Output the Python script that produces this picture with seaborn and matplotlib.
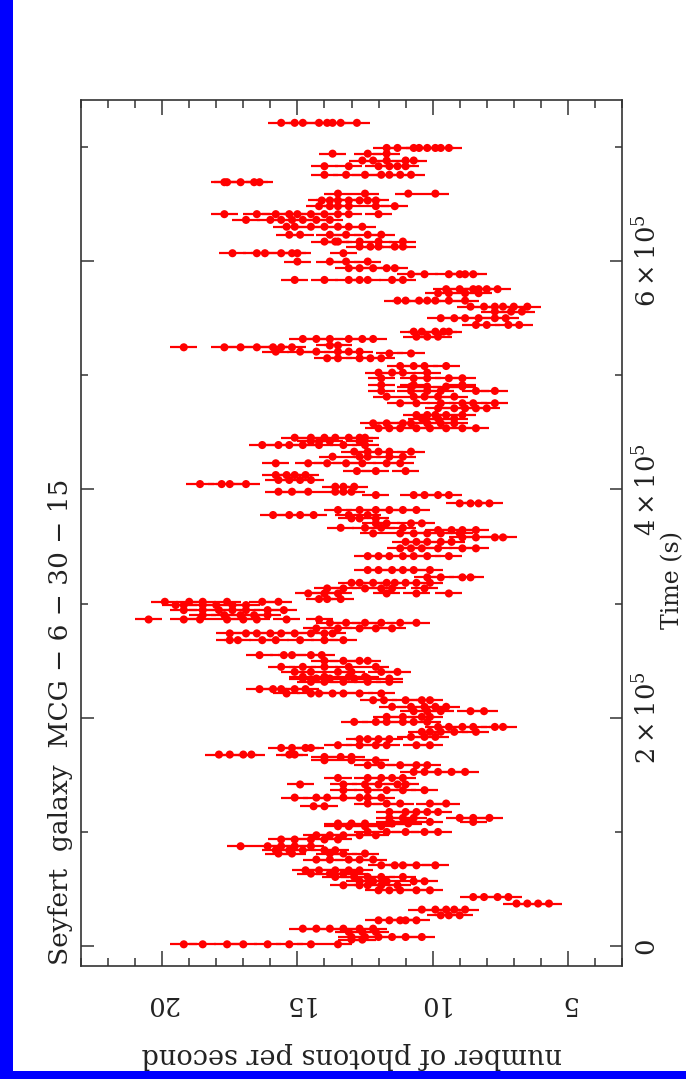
import numpy as np
import pandas as pd
import matplotlib
matplotlib.use("Agg")
import matplotlib.pyplot as plt
import seaborn as sns
from matplotlib.patches import Rectangle
from matplotlib.ticker import FixedLocator, MultipleLocator

# ---------------- data ----------------
# each entry: time of a group of bins (ks) and the count rates in that group
strip_time_ks = [
    721, 699, 694, 688, 683, 675.5, 669, 659, 653, 648, 641, 636, 630, 623, 617,
    612.6, 606.8, 599.5, 593.7, 588.4, 583.4, 575.3, 571.8, 565.3, 560, 555.7,
    549.9, 544, 538.1, 533.7, 531.7, 526, 524.4, 520.6, 519, 514.8, 508, 502.2,
    497.3, 491.4, 490, 486.2, 481.2, 475.4, 471, 465.1, 462, 457.8, 453.5, 445.2,
    442, 438.8, 433, 428.6, 422.8, 416, 412.5, 408.2, 404.6, 402.3, 397.9, 395,
    387.7, 381.9, 377.5, 374.5, 370.2, 366.3, 364.3, 361.4, 357.9, 354, 348.3,
    341.5, 329.3, 322.9, 318.1, 313.2, 308.8, 303.9, 301.5, 298.6, 294.2, 289.8,
    286, 283.1, 278.2, 273.8, 267.9, 254.8, 249.8, 244.5, 240.1, 235.8, 234.3,
    231.4, 225, 221.2, 215.3, 209.5, 205.7, 200.7, 196.3, 191.9, 187.6, 183.2,
    181.2, 175.9, 173.5, 167.7, 165.6, 162.7, 158.4, 152.5, 147.2, 141.5, 136.5,
    130, 124.8, 122.4, 117.4, 112.2, 108.7, 107.3, 104.9, 99.9, 97, 93.3, 87.4,
    83.9, 81, 75.7, 70.7, 66.3, 63.4, 60.5, 56.7, 53.2, 48.8, 42.9, 37.2, 31.9,
    26.9, 22.5, 15.2, 12.3, 7.9, 5.6, 1.5,
]
strip_rates = [
    [15.6, 15.1, 14.8, 14.2, 13.9, 13.7, 13.4, 12.8],
    [11.7, 11.3, 10.7, 10.5, 10.2, 9.9, 9.7, 9.4],
    [13.7, 12.4, 11.7],
    [12.6, 12.2, 11.7, 11.0, 10.7],
    [14.0, 13.1, 12.0, 11.6, 11.3, 11.0],
    [14.0, 13.2, 12.5, 11.9, 11.6, 11.2, 10.8],
    [17.7, 17.6, 17.1, 16.6, 16.4],
    [13.5, 12.5, 10.9, 9.9],
    [14.1, 13.8, 13.5, 13.1, 12.7, 12.4, 12.1],
    [14.2, 13.8, 13.5, 13.1, 12.1, 11.4],
    [17.7, 16.5, 15.8, 15.3, 15.0, 14.5, 14.0, 13.5, 13.1, 12.0],
    [16.9, 16.0, 15.6, 15.2, 14.8, 14.3, 13.8],
    [15.4, 15.1, 14.5, 14.0, 13.5, 13.1, 12.6],
    [15.3, 14.9, 13.8, 13.2, 12.4, 11.9],
    [14.0, 13.6, 13.5, 12.7, 12.0, 11.1],
    [12.7, 12.3, 12.0, 11.4, 11.1],
    [17.4, 16.5, 16.2, 15.6, 15.2, 15.0, 13.3],
    [15.0, 13.8, 13.2, 12.4],
    [13.1, 12.7, 12.2, 11.7, 11.4],
    [10.8, 10.3, 9.4, 9.0, 8.8, 8.5],
    [15.1, 14.0, 13.1, 12.7, 12.4, 11.5, 11.1],
    [9.5, 9.0, 8.5, 8.3, 8.0, 7.6],
    [9.8, 9.4, 8.8, 8.3],
    [11.3, 11.0, 10.5, 10.2, 9.9, 9.4, 8.8],
    [8.6, 8.1, 7.7, 7.4, 7.0, 6.5],
    [7.7, 7.1, 6.7],
    [9.7, 9.2, 8.8, 8.3, 7.7, 7.3],
    [8.4, 8.0, 7.2, 6.8],
    [10.7, 10.4, 9.9, 9.6, 9.4],
    [10.6, 10.2, 9.8],
    [14.8, 14.3, 13.8, 13.1, 12.6, 12.2],
    [13.8, 13.5],
    [19.2, 17.7, 17.1, 16.5, 15.9, 15.6, 15.2],
    [15.8, 14.9, 14.3, 13.5, 13.1, 12.7],
    [11.6, 10.8],
    [13.9, 13.5, 12.7, 12.3, 11.9],
    [11.2, 10.7, 10.3, 9.5],
    [12.0, 11.5, 11.1, 10.2],
    [11.9, 10.7, 10.2, 9.4, 8.9],
    [11.9, 10.7, 8.9],
    [10.8, 10.2, 9.5, 8.9],
    [11.9, 10.8, 10.2, 9.7, 8.4, 7.7],
    [11.7, 10.7, 10.3, 9.8, 9.2],
    [11.2, 10.6, 9.7, 8.9, 8.5, 7.7],
    [9.8, 9.2, 8.8, 8.4, 8.0],
    [10.6, 10.2, 9.9, 9.5, 8.9],
    [10.4, 9.8, 9.2],
    [12.2, 11.7, 11.1, 10.8, 10.2, 9.7, 9.2],
    [12.0, 11.6, 11.2, 10.6, 10.1, 9.5, 8.9, 8.4],
    [15.1, 14.5, 14.0, 13.6, 13.1, 12.7, 12.5],
    [14.5, 14.2, 13.8, 12.7],
    [16.3, 15.7, 15.3, 14.8, 14.2, 13.3, 12.5],
    [12.9, 12.4, 12.0, 11.6, 10.8],
    [13.7, 12.7, 12.4, 11.6, 11.1],
    [15.8, 14.6, 13.9, 13.2, 12.6, 11.7, 11.2],
    [12.8, 12.1, 11.0],
    [15.8, 15.4, 15.1, 14.7],
    [15.7, 15.3, 14.9, 14.5],
    [18.6, 17.8, 17.5, 16.9],
    [13.6, 13.3, 12.9],
    [15.7, 15.2, 14.6, 13.6, 13.3, 13.0],
    [12.1, 10.7, 10.3, 9.8, 9.4],
    [9.0, 8.6, 8.3, 7.9],
    [13.5, 12.7, 12.1, 11.6, 11.1, 10.6],
    [15.9, 15.3, 14.9, 14.4, 13.1, 12.4],
    [13.0, 12.7, 12.1],
    [12.1, 11.7, 10.8, 10.4],
    [13.4, 12.5, 11.9, 11.1],
    [9.8, 9.3, 8.9, 8.4],
    [12.2, 11.2, 10.7, 10.2, 9.7, 9.0],
    [8.9, 8.4, 7.7, 7.4],
    [11.0, 10.6, 10.2, 9.7, 9.3],
    [11.2, 10.8, 10.4, 9.8, 8.9, 8.4],
    [12.4, 12.0, 11.6, 11.1, 10.7, 10.2, 9.4],
    [12.4, 12.0, 11.5, 11.1, 10.7, 10.1],
    [10.2, 9.7, 8.9, 8.6],
    [13.0, 12.7, 12.2, 11.7, 11.4, 11.0, 10.6, 10.1],
    [13.9, 13.3, 12.5, 11.9, 11.5, 10.3],
    [14.6, 14.0, 13.5, 11.7, 10.6, 9.4],
    [14.2, 13.9, 13.4],
    [19.9, 19.0, 18.5, 17.6, 16.3, 15.7],
    [19.5, 19.2, 18.5, 18.0, 17.4, 16.9],
    [19.2, 18.5, 17.9, 17.4, 16.9, 16.1, 15.5],
    [18.5, 17.7, 17.1, 16.6, 16.1],
    [20.5, 19.2, 18.6, 17.6, 17.0, 16.5, 15.4, 14.2],
    [13.8, 13.2, 12.5, 11.9, 11.2, 10.6],
    [14.3, 13.5, 12.7, 12.1, 11.5],
    [17.5, 16.9, 16.5, 16.0, 15.6, 15.1, 14.5, 14.0, 13.7],
    [17.5, 17.2, 16.3, 15.8, 14.9, 14.0, 13.3],
    [16.4, 15.5, 15.2, 14.5, 14.1],
    [14.0, 13.3, 12.7, 12.4],
    [15.6, 14.8, 14.0, 13.1, 12.1],
    [15.1, 14.5, 13.5, 13.0, 11.9, 11.3],
    [14.8, 14.0, 13.1, 12.5],
    [14.8, 14.3, 13.8, 12.9, 12.4, 11.6],
    [14.5, 14.0, 13.3, 12.4, 11.6],
    [16.4, 15.9, 15.6, 15.1, 14.7],
    [15.4, 14.5, 14.2, 13.7, 13.3, 12.7, 11.9],
    [12.2, 11.8, 11.0, 10.4, 10.1],
    [11.5, 10.8, 10.3, 9.9, 9.5],
    [10.7, 10.2, 9.7, 8.6, 8.1],
    [11.7, 11.1, 10.4, 10.1],
    [12.9, 12.1, 11.7, 11.1, 10.7, 10.2],
    [9.8, 9.4, 8.9, 8.5, 7.7, 7.4],
    [10.4, 10.1, 9.7, 9.2, 8.4],
    [10.8, 10.3, 9.9],
    [12.7, 12.4, 12.0, 11.6],
    [13.5, 12.7, 12.1, 11.7, 10.6, 10.1],
    [15.6, 15.2, 14.7, 14.5],
    [17.9, 17.5, 17.0, 16.7, 15.3, 15.1],
    [14.0, 13.4, 13.0],
    [14.0, 13.0, 12.1],
    [12.4, 11.9, 11.2, 10.6, 10.2],
    [10.7, 10.3, 9.8, 9.3, 8.8],
    [13.5, 12.4, 11.9, 11.5, 11.1],
    [14.9, 13.3, 12.5, 12.0, 11.3, 11.0],
    [13.3, 12.4, 11.7, 11.1, 10.3],
    [15.1, 14.3, 13.9, 13.3, 12.7, 12.4, 11.9],
    [12.4, 11.7, 11.2, 10.1, 9.5],
    [14.4, 14.0],
    [11.6, 11.0, 10.6, 10.2, 9.8],
    [11.6, 11.1, 10.7, 9.0, 8.5, 7.9],
    [11.6, 10.9, 10.1, 8.5],
    [13.5, 13.0, 12.5, 11.5, 10.9],
    [13.5, 13.1, 12.5, 11.9],
    [12.4, 11.7, 11.0, 10.3, 9.8],
    [14.3, 13.8, 13.3, 12.7, 12.1],
    [15.6, 15.1, 14.5, 14.0, 13.5],
    [17.1, 16.1, 15.6, 15.1, 14.5],
    [15.8, 15.3, 14.8, 14.0, 13.6],
    [15.7, 15.2, 13.8, 13.3, 12.5],
    [14.3, 13.8, 13.1, 12.7, 12.2],
    [11.9, 11.4, 11.1, 10.6, 9.9],
    [14.7, 14.2, 13.6, 13.1, 12.7],
    [14.5, 13.8, 13.3, 12.9],
    [13.6, 12.9, 12.4, 11.9, 11.1],
    [12.7, 12.2, 11.7, 10.7, 10.3],
    [13.3, 12.7, 12.4, 11.9, 11.3],
    [12.0, 11.6, 11.2, 10.6, 10.1],
    [8.5, 8.1, 7.6, 7.2],
    [6.9, 6.5, 6.1, 5.7],
    [10.4, 9.9, 9.5, 9.2, 8.8],
    [9.7, 9.4, 9.0],
    [12.0, 11.6, 11.2, 11.0, 10.6],
    [14.8, 14.3, 13.8, 13.3, 12.7, 12.2],
    [13.1, 12.6, 12.1],
    [13.0, 12.5, 12.0, 11.5, 11.0, 10.4],
    [13.0, 12.6],
    [19.2, 18.5, 17.6, 17.0, 16.1, 15.3, 14.5, 13.5],
]
rate_err = 0.5  # typical 1-sigma error bar (counts/s)

title = "Seyfert  galaxy  MCG \u2212 6 \u2212 30 \u2212 15"
xlabel = "number of photons per second"
ylabel = "Time (s)"
rate_ticks = [5, 10, 15, 20]
rate_tick_labels = ["5", "10", "15", "20"]
time_ticks = [0, 2e5, 4e5, 6e5]
time_tick_labels = ["0", r"$2\times10^{5}$", r"$4\times10^{5}$", r"$6\times10^{5}$"]

rows = []
for t, rs in zip(strip_time_ks, strip_rates):
    for r in rs:
        rows.append((t * 1e3, r))
df = pd.DataFrame(rows, columns=["time", "rate"])

# ---------------- figure ----------------
sns.set_theme(style="white")
plt.rcParams["font.family"] = ["DejaVu Serif"]
plt.rcParams["mathtext.fontset"] = "dejavuserif"

W, H = 686, 1079
fig = plt.figure(figsize=(W / 100, H / 100), dpi=100)
fig.patch.set_facecolor("#0000ff")
fig.patches.append(Rectangle((13 / W, 8 / H), 1, 1, transform=fig.transFigure,
                             facecolor="white", edgecolor="none", zorder=-5))

x0, x1, ytop, ybot = 81, 622, 100, 966
ax = fig.add_axes([x0 / W, (H - ybot) / H, (x1 - x0) / W, (ybot - ytop) / H])
ax.set_facecolor("white")

ax.errorbar(df["rate"], df["time"], xerr=rate_err, fmt="none",
            ecolor="#ff0000", elinewidth=1.6, capsize=0, zorder=2)
sns.scatterplot(data=df, x="rate", y="time", ax=ax, color="#ff0000", s=34,
                edgecolor="none", linewidth=0, zorder=3, legend=False)

ax.set_xlim(23, 3)
ax.set_ylim(-17500, 741000)

fcol = "#222222"
# count axis (horizontal here)
ax.xaxis.set_major_locator(FixedLocator(rate_ticks))
ax.xaxis.set_minor_locator(MultipleLocator(1))
ax.set_xticklabels(rate_tick_labels, rotation=180, fontsize=18.5, color=fcol)
ax.tick_params(axis="x", which="both", direction="in", top=True, bottom=True,
               color="#333333", width=1.1)
ax.tick_params(axis="x", which="major", length=11, pad=18)
ax.tick_params(axis="x", which="minor", length=6)

# time axis (vertical here)
ax.yaxis.set_major_locator(FixedLocator(time_ticks))
ax.yaxis.set_minor_locator(MultipleLocator(1e5))
ax.tick_params(axis="y", which="both", direction="in", left=True, right=True,
               labelleft=False, labelright=True, color="#333333", width=1.1)
ax.tick_params(axis="y", which="major", length=9, pad=8)
ax.tick_params(axis="y", which="minor", length=5)
ax.set_yticklabels(time_tick_labels, rotation=90, va="center", fontsize=18.5, color=fcol)

for s in ax.spines.values():
    s.set_color("#333333")
    s.set_linewidth(1.2)

ax.set_xlabel(xlabel, rotation=180, fontsize=19.5, color=fcol, va="center", ha="center")
ax.xaxis.set_label_coords(0.5, -(1055 - ybot) / (ybot - ytop))
ax.yaxis.set_label_position("right")
ax.set_ylabel(ylabel, rotation=90, fontsize=17, color=fcol, va="center", ha="center")
ax.yaxis.set_label_coords((673 - x0) / (x1 - x0), (ybot - 580) / (ybot - ytop))

fig.text(61 / W, (H - 965) / H, title, rotation=90, ha="center", va="bottom",
         fontsize=19, color=fcol)

fig.savefig("out.png", dpi=100, facecolor=fig.get_facecolor())
